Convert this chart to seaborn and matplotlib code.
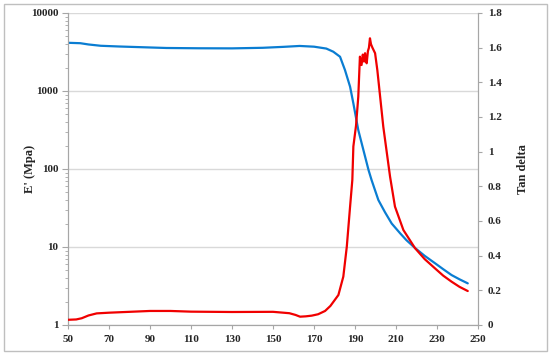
import numpy as np
import pandas as pd
import matplotlib
matplotlib.use("Agg")
import matplotlib.pyplot as plt
import matplotlib.ticker as mticker
from matplotlib.patches import Rectangle
import seaborn as sns

# =====================================================
# DATA
# =====================================================

temp_modulus = [50, 56, 60, 66, 75, 82, 98, 114, 130, 145, 155, 163, 170, 176,
                179.4, 182.7, 185.1, 187.6, 189.2, 191.6, 194.1, 196.6, 198.1,
                201.4, 204.6, 207.9, 212, 215, 219.3, 224, 229, 233, 237.1,
                241, 245]
storage_modulus = [4150, 4100, 3950, 3800, 3720, 3670, 3560, 3530, 3520, 3580,
                   3680, 3780, 3700, 3500, 3190, 2750, 1860, 1135, 694, 316,
                   175, 97, 72, 40, 28, 20, 15, 12.3, 9.7, 7.7, 6.2, 5.2, 4.37,
                   3.85, 3.42]

temp_tan = [50, 54, 56.7, 60, 64, 70, 80, 90, 100, 110, 130, 150, 158, 161,
            163.2, 166, 168.9, 172, 175.4, 178, 181.9, 184.3, 186, 187.6,
            188.7, 189.2, 190.5, 191.6, 192.4, 193.2, 193.8, 194.4, 194.9,
            195.3, 195.7, 196.3, 196.8, 197.3, 197.8, 198.5, 199.8, 200.9,
            203.8, 207.1, 209.5, 213.6, 219.3, 224, 229, 233, 237.1, 241, 245]
tan_delta = [0.030, 0.032, 0.039, 0.055, 0.067, 0.071, 0.076, 0.081, 0.081,
             0.077, 0.075, 0.076, 0.068, 0.058, 0.048, 0.050, 0.054, 0.062,
             0.081, 0.11, 0.173, 0.279, 0.452, 0.683, 0.837, 1.03, 1.15,
             1.317, 1.548, 1.50, 1.56, 1.52, 1.568, 1.53, 1.51, 1.58, 1.60,
             1.654, 1.62, 1.60, 1.568, 1.47, 1.144, 0.856, 0.683, 0.548,
             0.443, 0.38, 0.327, 0.285, 0.25, 0.22, 0.196]

x_ticks = [50, 70, 90, 110, 130, 150, 170, 190, 210, 230, 250]
left_ticks = [1, 10, 100, 1000, 10000]
right_ticks = [0, 0.2, 0.4, 0.6, 0.8, 1.0, 1.2, 1.4, 1.6, 1.8]

df_mod = pd.DataFrame({"T": temp_modulus, "E": storage_modulus})
df_tan = pd.DataFrame({"T": temp_tan, "tan": tan_delta})

# =====================================================
# STYLE
# =====================================================

sns.set_style("white")
plt.rcParams["font.family"] = ["Liberation Serif", "DejaVu Serif"]
plt.rcParams["font.weight"] = "bold"

spine_col = "#A6A6A6"
grid_col = "#D9D9D9"
blue = "#0A7DD2"
red = "#F00000"
tick_fs = 8
label_fs = 9

fig = plt.figure(figsize=(5.5, 3.55), dpi=100)
ax = fig.add_axes([68 / 550, 1 - 325 / 355, 410 / 550, 312 / 355])

# =====================================================
# LEFT AXIS - E'
# =====================================================

sns.lineplot(data=df_mod, x="T", y="E", ax=ax, color=blue, lw=1.6,
             estimator=None, sort=False, zorder=3)
ax.set_yscale("log")
ax.set_ylim(1, 10000)
ax.set_xlim(50, 250)
ax.set_yticks(left_ticks)
ax.yaxis.set_major_formatter(mticker.FuncFormatter(lambda v, p: f"{v:g}"))
ax.yaxis.set_minor_locator(mticker.LogLocator(base=10, subs=np.arange(2, 10)))
ax.yaxis.set_minor_formatter(mticker.NullFormatter())
ax.set_xticks(x_ticks)
ax.grid(axis="y", which="major", color=grid_col, lw=1)
ax.set_axisbelow(True)

ax.tick_params(axis="y", which="major", direction="out", length=4, width=0.8,
               color=spine_col, labelsize=tick_fs, pad=3, left=True)
ax.tick_params(axis="y", which="minor", direction="out", length=2.5, width=0.6,
               color=spine_col, left=True)
ax.tick_params(axis="x", direction="out", length=3, width=0.8,
               color=spine_col, labelsize=tick_fs, pad=4, bottom=True)
for lab in ax.get_xticklabels() + ax.get_yticklabels():
    lab.set_fontweight("bold")

ax.set_xlabel("")
ax.set_ylabel("E' (Mpa)", fontsize=label_fs, fontweight="bold")
ax.yaxis.set_label_coords(-0.078, 0.5)

for side in ["left", "bottom", "right"]:
    ax.spines[side].set_color(spine_col)
    ax.spines[side].set_linewidth(0.8)
ax.spines["top"].set_visible(False)

# =====================================================
# RIGHT AXIS - TAN DELTA
# =====================================================

ax2 = ax.twinx()
sns.lineplot(data=df_tan, x="T", y="tan", ax=ax2, color=red, lw=1.6,
             estimator=None, sort=False, zorder=4)
ax2.set_ylim(0, 1.8)
ax2.set_yticks(right_ticks)
ax2.yaxis.set_major_formatter(mticker.FuncFormatter(lambda v, p: f"{v:g}"))
ax2.tick_params(axis="y", direction="out", length=3, width=0.8,
                color=spine_col, labelsize=tick_fs, pad=4, right=True)
for lab in ax2.get_yticklabels():
    lab.set_fontweight("bold")
ax2.set_xlabel("")
ax2.set_ylabel("Tan delta", fontsize=label_fs, fontweight="bold", labelpad=11)
for side in ["left", "bottom", "right"]:
    ax2.spines[side].set_color(spine_col)
    ax2.spines[side].set_linewidth(0.8)
ax2.spines["top"].set_visible(False)
ax2.grid(False)

# figure border
fig.patches.append(Rectangle((4 / 550, 4 / 355), 542.5 / 550, 347 / 355,
                             transform=fig.transFigure, fill=False,
                             edgecolor="#BFBFBF", lw=1))

fig.savefig("out.png", dpi=100)
